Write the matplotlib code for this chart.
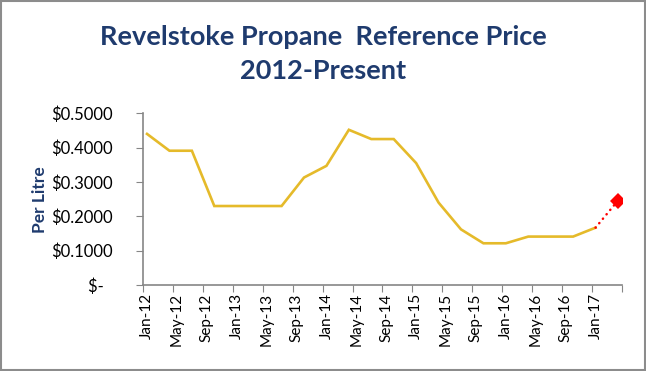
import matplotlib.pyplot as plt
from matplotlib.patches import Rectangle

# quarterly reference prices, month index from Jan-12
months = [0, 3, 6, 9, 12, 15, 18, 21, 24, 27, 30, 33, 36, 39, 42, 45, 48, 51, 54, 57, 60]
price = [0.440, 0.391, 0.391, 0.230, 0.230, 0.230, 0.230, 0.313, 0.347, 0.452, 0.425,
         0.425, 0.355, 0.240, 0.162, 0.1215, 0.1215, 0.141, 0.141, 0.141, 0.167]
# latest estimate (red dotted)
new_months = [60, 63]
new_price = [0.167, 0.246]

tick_labels = ["Jan-12", "May-12", "Sep-12", "Jan-13", "May-13", "Sep-13", "Jan-14", "May-14",
               "Sep-14", "Jan-15", "May-15", "Sep-15", "Jan-16", "May-16", "Sep-16", "Jan-17"]
y_ticks = [0, 0.1, 0.2, 0.3, 0.4, 0.5]
y_labels = ["$-  ", "$0.1000", "$0.2000", "$0.3000", "$0.4000", "$0.5000"]

navy = "#1F3B6E"
axis_grey = "#868686"

plt.rcParams['font.family'] = ['Lato', 'DejaVu Sans']

fig = plt.figure(figsize=(6.46, 3.71), dpi=100)
ax = fig.add_axes([0.2218, 0.2318, 0.7406, 0.4628])

ax.plot(months, price, color="#E5BA2A", lw=1.9, solid_joinstyle="miter")
ax.plot(new_months, new_price, color="red", lw=1.8, ls=(0, (0.1, 2.2)),
        dash_capstyle="round", zorder=3)
ax.plot(new_months[-1:], new_price[-1:], "D", color="red", ms=8, mew=0, zorder=4)

ax.set_xlim(-0.5, 63.5)
ax.set_ylim(0, 0.5)

# ticks between months, labels at month centres
ax.set_xticks([m - 0.5 for m in range(0, 65, 4)])
ax.set_xticklabels([])
ax.set_xticks(list(range(0, 61, 4)), minor=True)
ax.set_xticklabels(tick_labels, minor=True, rotation=90, fontsize=11)
ax.tick_params(axis="x", which="minor", length=0, pad=6)
ax.tick_params(axis="x", which="major", length=5, color=axis_grey, direction="out")

ax.set_yticks(y_ticks)
ax.set_yticklabels(y_labels, fontsize=12)
ax.tick_params(axis="y", length=5, color=axis_grey, pad=17)

for side in ["top", "right"]:
    ax.spines[side].set_visible(False)
for side in ["left", "bottom"]:
    ax.spines[side].set_color(axis_grey)
    ax.spines[side].set_linewidth(1.2)

ax.set_ylabel("Per Litre", fontsize=12.5, fontweight="bold", color=navy)
ax.yaxis.set_label_coords(-0.2, 0.5)

fig.text(0.5, 0.879, "Revelstoke Propane  Reference Price", ha="center", va="baseline",
         fontsize=19.5, fontweight="bold", color=navy)
fig.text(0.5, 0.787, "2012-Present", ha="center", va="baseline",
         fontsize=19.5, fontweight="bold", color=navy)

fig.patches.append(Rectangle((0.002, 0.003), 0.996, 0.994, transform=fig.transFigure,
                             fill=False, edgecolor="#8C8C8C", lw=1.5))

fig.savefig("out.png", dpi=100)
